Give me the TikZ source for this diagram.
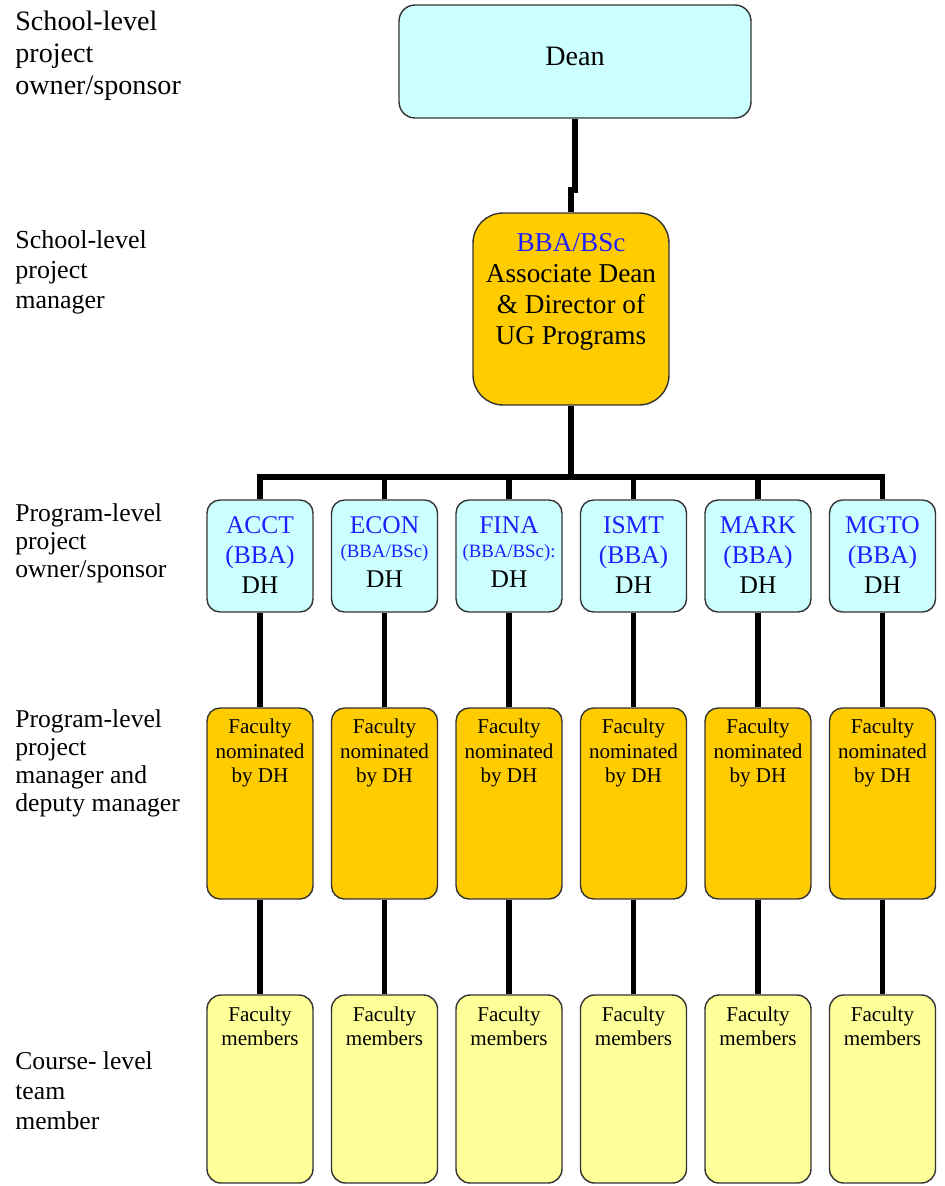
\documentclass[tikz,border=0pt]{standalone}
\usepackage{fontspec}
\setmainfont{Liberation Serif}
\definecolor{deancyan}{HTML}{CCFFFF}
\definecolor{mgrgold}{HTML}{FFCC00}
\definecolor{memyellow}{HTML}{FFFF99}
\definecolor{unitblue}{HTML}{1F1FFF}
\definecolor{boxedge}{HTML}{333333}
\newcommand{\bl}[1]{\textcolor{unitblue}{#1}}
\begin{document}
\begin{tikzpicture}[x=0.02cm,y=-0.02cm,
  conn/.style={line width=3pt, black, line join=miter},
  basebox/.style={draw=boxedge, line width=0.8pt, rectangle, inner sep=0pt},
  deanbox/.style={basebox, fill=deancyan, rounded corners=0.32cm,
    minimum width=7.04cm, minimum height=2.26cm},
  adbox/.style={basebox, fill=mgrgold, rounded corners=0.6cm,
    minimum width=3.92cm, minimum height=3.84cm},
  unitbox/.style={basebox, fill=deancyan, rounded corners=0.26cm,
    minimum width=2.12cm, minimum height=2.24cm},
  nombox/.style={basebox, fill=mgrgold, rounded corners=0.26cm,
    minimum width=2.12cm, minimum height=3.82cm},
  membox/.style={basebox, fill=memyellow, rounded corners=0.28cm,
    minimum width=2.12cm, minimum height=3.76cm},
  boxtext/.style={anchor=north, inner sep=0pt, align=center},
  deantext/.style={inner sep=0pt, font=\fontsize{16}{18}\selectfont},
  adtext/.style={boxtext, font=\fontsize{15.5}{17.6}\selectfont},
  unittext/.style={boxtext, font=\fontsize{14.5}{17}\selectfont},
  nomtext/.style={boxtext, font=\fontsize{12}{14}\selectfont},
  memtext/.style={boxtext, font=\fontsize{12}{13.7}\selectfont},
  sidelabel/.style={anchor=base west, align=left, inner sep=0pt},
]
\useasboundingbox (0,0) rectangle (944,1186);

% level captions on the left (placed by the baseline of their last line)
\node[sidelabel, font=\fontsize{16}{18.2}\selectfont] (capA) at (15,94)
  {School-level\\project\\owner/sponsor};
\node[sidelabel, font=\fontsize{14.8}{17}\selectfont] (capB) at (15,308)
  {School-level\\project\\manager};
\node[sidelabel, font=\fontsize{14.6}{15.8}\selectfont] (capC) at (15,577)
  {Program-level\\project\\owner/sponsor};
\node[sidelabel, font=\fontsize{14.6}{15.8}\selectfont] (capD) at (15,811)
  {Program-level\\project\\manager and\\deputy manager};
\node[sidelabel, font=\fontsize{14.6}{16.8}\selectfont] (capE) at (15,1129)
  {Course- level\\team\\member};

% school level
\node[deanbox] (dean) at (575,61.5) {};
\node[deantext] (deantxt) at ([yshift=3pt]dean.center) {Dean};
\node[adbox] (ad) at (571,309) {};
\node[adtext] (adtxt) at ([yshift=-12pt]ad.north)
  {\bl{BBA/BSc}\\Associate Dean\\\& Director of\\UG Programs};

% program and course level columns
\foreach \i/\x in {1/260,2/384.5,3/509,4/633.5,5/758,6/882.5}{
  \node[unitbox] (p\i) at (\x,556) {};
  \node[nombox] (n\i) at (\x,803.5) {};
  \node[membox] (m\i) at (\x,1089) {};
  \node[nomtext] (nt\i) at ([yshift=-6.5pt]n\i.north) {Faculty\\nominated\\by DH};
  \node[memtext] (mt\i) at ([yshift=-7pt]m\i.north) {Faculty\\members};
}
\node[unittext] (pt1) at ([yshift=-9.8pt]p1.north) {\bl{ACCT}\\\bl{(BBA)}\\DH};
\node[unittext] (pt2) at ([yshift=-9.5pt]p2.north)
  {\bl{ECON}\\[-3.3pt]\bl{\fontsize{10.7}{12}\selectfont(BBA/BSc)}\\DH};
\node[unittext] (pt3) at ([yshift=-9.5pt]p3.north)
  {\bl{FINA}\\[-3.3pt]\bl{\fontsize{10.7}{12}\selectfont(BBA/BSc):}\\DH};
\node[unittext] (pt4) at ([yshift=-9.8pt]p4.north) {\bl{ISMT}\\\bl{(BBA)}\\DH};
\node[unittext] (pt5) at ([yshift=-9.8pt]p5.north) {\bl{MARK}\\\bl{(BBA)}\\DH};
\node[unittext] (pt6) at ([yshift=-9.8pt]p6.north) {\bl{MGTO}\\\bl{(BBA)}\\DH};

% reporting lines
\coordinate (jog) at (575,190);
\coordinate (bus) at (571,477);
\draw[conn] (dean.south) -- (jog) -| (ad.north);
\draw[conn] (ad.south) -- (bus);
\draw[conn] (p1.north) -- (p1.north |- bus) -- (p6.north |- bus) -- (p6.north);
\foreach \i in {2,3,4,5}{
  \draw[conn] (p\i.north) -- (p\i.north |- bus);
}
\foreach \i in {1,...,6}{
  \draw[conn] (p\i.south) -- (n\i.north);
  \draw[conn] (n\i.south) -- (m\i.north);
}
\end{tikzpicture}
\end{document}
